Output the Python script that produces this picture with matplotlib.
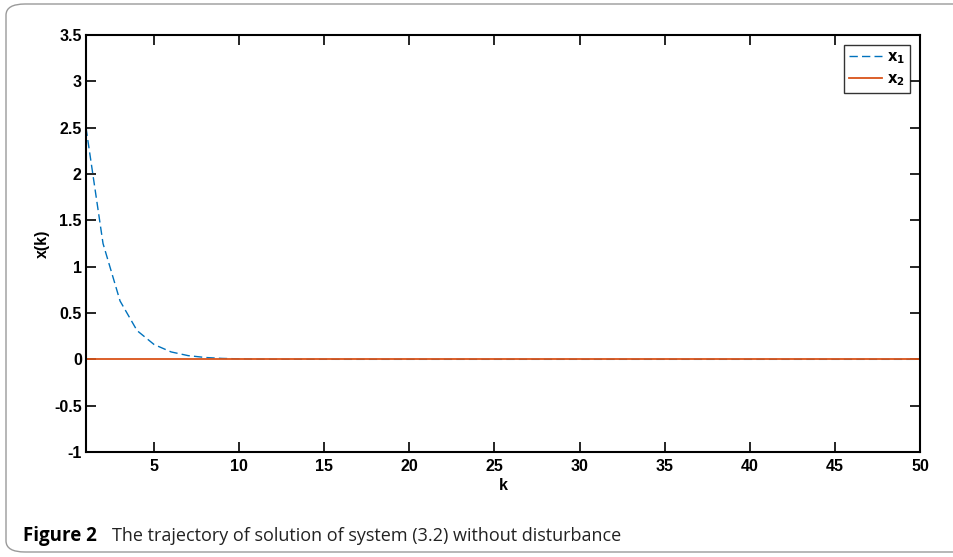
import numpy as np
import matplotlib.pyplot as plt
from matplotlib.patches import FancyBboxPatch

# values
k = np.arange(1, 51)
x1 = [2.5, 1.25, 0.63, 0.31, 0.16, 0.08, 0.04, 0.02, 0.01, 0.005,
      0.002, 0.001, 0.0006, 0.0003, 0.0002, 0.0001] + [0.0] * 34
x2 = [0.0] * 50

xticks = [5, 10, 15, 20, 25, 30, 35, 40, 45, 50]
yticks = [-1, -0.5, 0, 0.5, 1, 1.5, 2, 2.5, 3, 3.5]

plt.rcParams['font.family'] = ['Liberation Sans', 'DejaVu Sans']

fig = plt.figure(figsize=(9.54, 5.57), dpi=100)

# rounded frame around the figure (cut on the right like the reference)
frame = FancyBboxPatch((6 / 954, 5 / 557), 1.05, 548 / 557,
                       boxstyle='round,pad=0,rounding_size=0.02',
                       transform=fig.transFigure, fill=False,
                       edgecolor='#9a9a9a', linewidth=1.0, clip_on=False)
fig.patches.append(frame)

ax = fig.add_axes([86 / 954, 1 - 452 / 557, 834 / 954, 417 / 557])
ax.plot(k, x1, linestyle=(0, (6, 3)), color='#0072BD', linewidth=1.0, label='$\\mathbf{x_1}$')
ax.plot(k, x2, linestyle='-', color='#D95319', linewidth=1.3, label='$\\mathbf{x_2}$')

ax.set_xlim(1, 50)
ax.set_ylim(-1, 3.5)
ax.set_xticks(xticks)
ax.set_yticks(yticks)
ax.set_yticklabels([f'{v:g}' for v in yticks])
ax.tick_params(direction='in', length=7, width=1.2, top=True, right=True,
               labelsize=11.5)
ax.tick_params(axis='y', pad=3)
ax.tick_params(axis='x', pad=5)
for lab in ax.get_xticklabels() + ax.get_yticklabels():
    lab.set_fontweight('bold')
for s in ax.spines.values():
    s.set_linewidth(1.5)

ax.set_xlabel('k', fontsize=11.5, fontweight='bold', labelpad=3)
ax.set_ylabel('x(k)', fontsize=11.5, fontweight='bold', labelpad=3)

leg = ax.legend(loc='upper right', fontsize=10.5, frameon=True, fancybox=False,
                edgecolor='black', handlelength=2.3, handletextpad=0.3,
                borderpad=0.35, labelspacing=0.45, borderaxespad=0,
                bbox_to_anchor=(0.988, 0.976))
leg.get_frame().set_linewidth(1.0)

fig.text(23 / 954, 1 - 541 / 557, 'Figure 2', fontsize=13.5, fontweight='bold',
         family=['Open Sans', 'DejaVu Sans'], va='baseline', ha='left')
fig.text(112 / 954, 1 - 541 / 557,
         'The trajectory of solution of system (3.2) without disturbance',
         fontsize=13, family=['Open Sans', 'DejaVu Sans'], va='baseline', ha='left',
         color='#222222')

fig.savefig('out.png', dpi=100)
